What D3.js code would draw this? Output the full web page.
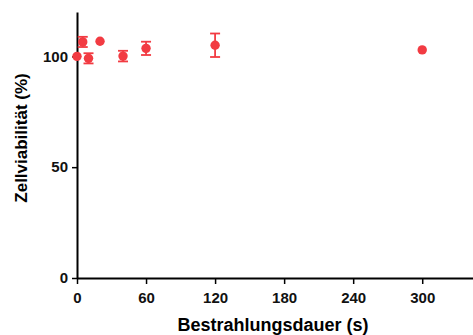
<!DOCTYPE html>
<html><head><meta charset="utf-8">
<script src="https://cdn.jsdelivr.net/npm/d3@7"></script>
<style>body{margin:0;background:#fff}svg{display:block}text{font-family:"Liberation Sans",Arial,sans-serif;font-weight:bold}</style>
</head><body><svg id="c" width="473" height="335"></svg>
<script>
const times = [0, 5, 10, 20, 40, 60, 120, 300];
const viability = [100, 106.5, 99.1, 106.8, 100.1, 103.6, 105, 102.9];
const errors = [0, 2.3, 2.3, 0, 2.4, 3, 5.3, 0];
const xTicks = [0, 60, 120, 180, 240, 300];
const yTicks = [0, 50, 100];

const svg = d3.select("#c");
const x = d3.scaleLinear().domain([0, 345]).range([77, 474]);
const y = d3.scaleLinear().domain([0, 120]).range([278, 12]);
const color = "#f23b42";

const xa = svg.append("g").attr("transform", "translate(0,278)")
  .call(d3.axisBottom(x).tickValues(xTicks).tickSize(6).tickPadding(8).tickSizeOuter(0));
const ya = svg.append("g").attr("transform", "translate(77,0)")
  .call(d3.axisLeft(y).tickValues(yTicks).tickSize(5).tickPadding(4).tickSizeOuter(0));
[xa, ya].forEach(a => {
  a.select(".domain").attr("stroke", "#000").attr("stroke-width", 2);
  a.selectAll(".tick line").attr("stroke", "#000").attr("stroke-width", 1.5);
  a.selectAll("text").attr("font-size", 15).attr("fill", "#111");
});

const data = times.map((t, i) => ({t, v: viability[i], e: errors[i]}));
const g = svg.append("g");
data.filter(d => d.e > 0).forEach(d => {
  const cx = x(d.t);
  g.append("line").attr("x1", cx).attr("x2", cx).attr("y1", y(d.v + d.e)).attr("y2", y(d.v - d.e)).attr("stroke", color).attr("stroke-width", 1.8);
  [d.v + d.e, d.v - d.e].forEach(v => g.append("line").attr("x1", cx - 5).attr("x2", cx + 5).attr("y1", y(v)).attr("y2", y(v)).attr("stroke", color).attr("stroke-width", 1.8));
});
g.selectAll("circle").data(data).join("circle")
  .attr("cx", d => x(d.t)).attr("cy", d => y(d.v)).attr("r", 4.7).attr("fill", color);

svg.append("text").attr("x", 273).attr("y", 331).attr("text-anchor", "middle").attr("font-size", 18).text("Bestrahlungsdauer (s)");
svg.append("text").attr("transform", "translate(27,138) rotate(-90)").attr("text-anchor", "middle").attr("font-size", 17).text("Zellviabilität (%)");
</script></body></html>
